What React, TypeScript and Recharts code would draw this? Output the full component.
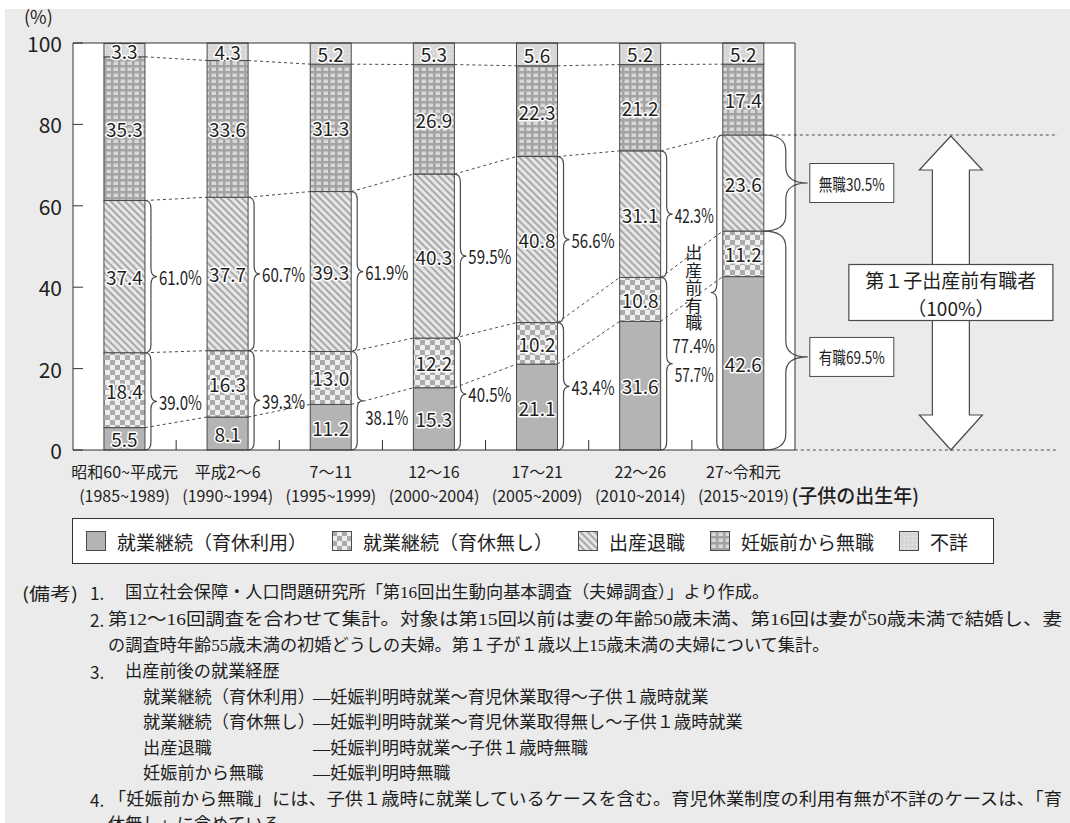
import React from 'react';
import { BarChart, Bar, XAxis, YAxis, CartesianGrid } from 'recharts';

// 子供の出生年 (category axis)
const categories = ['昭和60~平成元', '平成2～6', '7～11', '12～16', '17～21', '22～26', '27~令和元'];
const birthYears = ['(1985~1989)', '(1990~1994)', '(1995~1999)', '(2000~2004)', '(2005~2009)', '(2010~2014)', '(2015~2019)'];

// 出産前後の就業経歴 (%)
const withLeave = [5.5, 8.1, 11.2, 15.3, 21.1, 31.6, 42.6];
const withoutLeave = [18.4, 16.3, 13.0, 12.2, 10.2, 10.8, 11.2];
const quitAtBirth = [37.4, 37.7, 39.3, 40.3, 40.8, 31.1, 23.6];
const notWorking = [35.3, 33.6, 31.3, 26.9, 22.3, 21.2, 17.4];
const unknown = [3.3, 4.3, 5.2, 5.3, 5.6, 5.2, 5.2];

// shares of 出産前有職
const continuedShare = [39.0, 39.3, 38.1, 40.5, 43.4, 57.7, 69.5];
const quitShare = [61.0, 60.7, 61.9, 59.5, 56.6, 42.3, 30.5];
const employedBeforeLast = 77.4;

const yTicks = [0, 20, 40, 60, 80, 100];

const seriesList = [
  { key: 'withLeave', name: '就業継続（育休利用）', values: withLeave, fill: '#b4b4b4' },
  { key: 'withoutLeave', name: '就業継続（育休無し）', values: withoutLeave, fill: 'url(#pat-check)' },
  { key: 'quitAtBirth', name: '出産退職', values: quitAtBirth, fill: 'url(#pat-stripe)' },
  { key: 'notWorking', name: '妊娠前から無職', values: notWorking, fill: 'url(#pat-grid)' },
  { key: 'unknown', name: '不詳', values: unknown, fill: 'url(#pat-dots)' },
];

const chartData = categories.map((cat, i) => {
  const row: Record<string, any> = { cat, years: birthYears[i] };
  seriesList.forEach((s) => {
    row[s.key] = s.values[i];
  });
  return row;
});

const CHART_W = 1070;
const CHART_H = 520;
const PLOT_LEFT = 73;
const PLOT_RIGHT = 795;
const STEP = (PLOT_RIGHT - PLOT_LEFT) / categories.length;
const EXT_RIGHT = 1058;
const FONT = '"Noto Sans CJK JP", "Noto Sans", sans-serif';
const NOTE_FONT = '"Liberation Serif", "Noto Sans CJK JP", serif';
const INK = '#1e1e1e';
const LINE = '#4a4a4a';

const halo: React.CSSProperties = { paintOrder: 'stroke' };

const cumTop = (s: number, i: number) =>
  seriesList.slice(0, s + 1).reduce((a, q) => a + q.values[i], 0);

function bracePath(x0: number, yTop: number, yBot: number, dir: number, depth: number, tipY: number, r: number) {
  const xv = x0 + (dir * depth) / 2;
  const xt = x0 + dir * depth;
  const rr = Math.min(r, (yBot - yTop) / 4);
  return `M${x0},${yTop} Q${xv},${yTop} ${xv},${yTop + rr} L${xv},${tipY - rr} Q${xv},${tipY} ${xt},${tipY} Q${xv},${tipY} ${xv},${tipY + rr} L${xv},${yBot - rr} Q${xv},${yBot} ${x0},${yBot}`;
}

// condensed percentage label (narrow glyphs like the original)
const pctLabel = (x: number, y: number, v: number, sx: number, key: string) => (
  <text key={key} transform={`translate(${x},${y}) scale(${sx},1)`} x={0} y={0} fontSize={19.5} fill={INK}
    fontFamily={FONT} dominantBaseline="central">{`${v.toFixed(1)}%`}</text>
);

// lower brace labels that sit a little off the brace tip
const lowerShift: Record<number, number> = { 2: 16, 5: 10 };

const makeShape = (s: number) => (props: any) => {
  const { x, y, width, height, index } = props;
  if (!(height > 0)) return <g />;
  const v = seriesList[s].values[index];
  const topVal = cumTop(s, index);
  const ppu = height / v;
  const zeroY = y + height + (topVal - v) * ppu;
  const py = (val: number) => zeroY - val * ppu;
  const right = x + width;
  const cx = x + width / 2;
  const last = index === categories.length - 1;
  const out: React.ReactNode[] = [];

  out.push(<rect key="r" x={x} y={y} width={width} height={height} fill={seriesList[s].fill} stroke={LINE} strokeWidth={1} />);

  if (s < 4 && !last) {
    out.push(<line key="c" x1={right} y1={y} x2={x + STEP} y2={py(cumTop(s, index + 1))}
      stroke={LINE} strokeWidth={1} strokeDasharray="3 3" />);
  }

  if (s === 0 && last) {
    out.push(<line key="z" x1={cx + STEP / 2} y1={zeroY} x2={EXT_RIGHT} y2={zeroY} stroke={LINE} strokeDasharray="3 3" />);
  }

  if (s === 1) {
    if (!last) {
      const mid = (y + zeroY) / 2;
      out.push(<path key="b" d={bracePath(right, y, zeroY, 1, 12, mid, 8)} fill="none" stroke={LINE} strokeWidth={1.2} />);
      out.push(pctLabel(right + 14, mid + (lowerShift[index] || 0), continuedShare[index], index === 5 ? 0.7 : 0.77, 'p'));
    } else {
      const tipY = y + (zeroY - y) * 0.575;
      out.push(<path key="b" d={bracePath(right, y, zeroY, 1, 44, tipY, 16)} fill="none" stroke={LINE} strokeWidth={1.2} />);
      out.push(<rect key="bx" x={right + 46} y={tipY - 19.5} width={84} height={39} fill="#fff" stroke={LINE} />);
      out.push(<text key="bt" x={right + 88} y={tipY} textAnchor="middle" dominantBaseline="central" fontSize={17}
        fontFamily={FONT} fill={INK} textLength={66} lengthAdjust="spacingAndGlyphs">{`有職${continuedShare[index].toFixed(1)}%`}</text>);
    }
  }

  if (s === 2) {
    if (!last) {
      const mid = y + height / 2;
      out.push(<path key="b" d={bracePath(right, y, y + height, 1, 12, mid, 8)} fill="none" stroke={LINE} strokeWidth={1.2} />);
      out.push(pctLabel(right + 14, mid, quitShare[index], index === 5 ? 0.7 : 0.77, 'p'));
    } else {
      const yTop = py(employedBeforeLast);
      const mid = y + height / 2;
      // right brace to 無職 box
      out.push(<path key="b" d={bracePath(right, y, y + height, 1, 44, mid, 16)} fill="none" stroke={LINE} strokeWidth={1.2} />);
      out.push(<rect key="bx" x={right + 46} y={mid - 19.5} width={84} height={39} fill="#fff" stroke={LINE} />);
      out.push(<text key="bt" x={right + 88} y={mid} textAnchor="middle" dominantBaseline="central" fontSize={17}
        fontFamily={FONT} fill={INK} textLength={66} lengthAdjust="spacingAndGlyphs">{`無職${quitShare[index].toFixed(1)}%`}</text>);
      // left brace: 出産前有職
      const lmid = (yTop + zeroY) / 2;
      out.push(<path key="lb" d={bracePath(x, yTop, zeroY, -1, 12, lmid, 8)} fill="none" stroke={LINE} strokeWidth={1.2} />);
      out.push(<text key="vt" x={x - 29} y={lmid - 48} fontSize={17} fontFamily={FONT} fill={INK}
        style={{ writingMode: 'vertical-rl' } as React.CSSProperties} textLength={87} lengthAdjust="spacing">出産前有職</text>);
      out.push(<text key="v77" transform={`translate(${x - 29},${lmid + 53}) scale(0.8,1)`} x={0} y={0}
        textAnchor="middle" dominantBaseline="central" fontSize={18.5} fontFamily={FONT} fill={INK}>
        {`${employedBeforeLast.toFixed(1)}%`}
      </text>);
      // dashed guide + double arrow
      out.push(<line key="g" x1={right} y1={yTop} x2={EXT_RIGHT} y2={yTop} stroke={LINE} strokeDasharray="3 3" />);
      const ax = cx + STEP / 2 + 156;
      const hw = 31.5, sw = 18.5, hl = 35;
      const pts = [
        [ax, yTop + 1], [ax + hw, yTop + hl], [ax + sw, yTop + hl], [ax + sw, zeroY - hl], [ax + hw, zeroY - hl],
        [ax, zeroY], [ax - hw, zeroY - hl], [ax - sw, zeroY - hl], [ax - sw, yTop + hl], [ax - hw, yTop + hl],
      ].map((p) => p.join(',')).join(' ');
      out.push(<polygon key="ar" points={pts} fill="#fff" stroke={LINE} strokeWidth={1.2} />);
      out.push(<rect key="al" x={ax - 102} y={lmid - 28} width={204} height={56} fill="#fff" stroke={LINE} strokeWidth={1.2} />);
      out.push(<text key="at1" x={ax} y={lmid - 12.5} textAnchor="middle" dominantBaseline="central" fontSize={19}
        fontFamily={FONT} fill={INK}>第１子出産前有職者</text>);
      out.push(<text key="at2" x={ax} y={lmid + 15} textAnchor="middle" dominantBaseline="central" fontSize={19}
        fontFamily={FONT} fill={INK}>（100%）</text>);
    }
  }

  out.push(
    <text key="t" x={cx} y={y + height / 2} textAnchor="middle" dominantBaseline="central" fontSize={19}
      fontFamily={FONT} fill={INK} stroke="#fff" strokeWidth={3} strokeLinejoin="round" style={halo}>
      {v.toFixed(1)}
    </text>
  );
  return <g>{out}</g>;
};

const CategoryTick = (props: any) => {
  const { x, y, payload } = props;
  const i = categories.indexOf(payload.value);
  const last = i === categories.length - 1;
  return (
    <g fontFamily={FONT} fill={INK}>
      {!last && <line x1={x + STEP / 2} x2={x + STEP / 2} y1={y} y2={y - 10} stroke="#333" />}
      <text x={x} y={y + 21} textAnchor="middle" dominantBaseline="central" fontSize={16}>{payload.value}</text>
      <text x={x} y={y + 44.5} textAnchor="middle" dominantBaseline="central" fontSize={16}>{birthYears[i]}</text>
      {last && (
        <text x={x + 48} y={y + 44} textAnchor="start" dominantBaseline="central" fontSize={19} fontWeight={500}>(子供の出生年)</text>
      )}
    </g>
  );
};

const ValueTick = (props: any) => {
  const { x, y, payload } = props;
  return (
    <g>
      <text x={x} y={y} textAnchor="end" dominantBaseline="central" fontSize={21} fontFamily={FONT} fill={INK}>
        {payload.value}
      </text>
      <line x1={PLOT_LEFT} x2={PLOT_LEFT + 10} y1={y} y2={y} stroke="#333" />
    </g>
  );
};

function Patterns() {
  return (
    <svg width={0} height={0} style={{ position: 'absolute' }}>
      <defs>
        <pattern id="pat-check" width={10} height={10} patternUnits="userSpaceOnUse">
          <rect width={10} height={10} fill="#eeeeee" />
          <rect width={5} height={5} fill="#ababab" />
          <rect x={5} y={5} width={5} height={5} fill="#ababab" />
        </pattern>
        <pattern id="pat-stripe" width={5} height={5} patternUnits="userSpaceOnUse" patternTransform="rotate(-45)">
          <rect width={5} height={5} fill="#e6e6e6" />
          <rect width={2} height={5} fill="#a9a9a9" />
        </pattern>
        <pattern id="pat-grid" width={7} height={6} patternUnits="userSpaceOnUse">
          <rect width={7} height={6} fill="#a3a3a3" />
          <rect x={1.5} y={1.5} width={4.5} height={3.5} fill="#d8d8d8" />
        </pattern>
        <pattern id="pat-dots" width={4} height={4} patternUnits="userSpaceOnUse">
          <rect width={4} height={4} fill="#d6d6d6" />
          <rect x={1} y={1} width={1} height={1} fill="#f2f2f2" />
        </pattern>
      </defs>
    </svg>
  );
}

function LegendBox() {
  return (
    <div style={{
      position: 'absolute', left: 72, top: 518, width: 922, height: 46, boxSizing: 'border-box',
      border: '1px solid #333', background: '#fff', display: 'flex', alignItems: 'center', paddingLeft: 13,
      fontFamily: FONT, fontSize: 19, color: INK, whiteSpace: 'nowrap',
    }}>
      {seriesList.map((s) => (
        <div key={s.key} style={{ display: 'flex', alignItems: 'center', marginRight: 25 }}>
          <svg width={20} height={20} style={{ marginRight: 11 }}>
            <rect x={0.5} y={0.5} width={19} height={19} fill={s.fill} stroke={LINE} />
          </svg>
          <span>{s.name}</span>
        </div>
      ))}
    </div>
  );
}

function Notes() {
  const t = (x: number, y: number, s: string, font = NOTE_FONT, len?: number) => (
    <text x={x} y={y} dominantBaseline="central" fontSize={17.2} fontFamily={font} fill={INK}
      textLength={len} lengthAdjust={len ? 'spacingAndGlyphs' : undefined}>{s}</text>
  );
  return (
    <svg width={1070} height={823} style={{ position: 'absolute', left: 0, top: 0, pointerEvents: 'none' }}>
      <text x={24} y={16} dominantBaseline="central" fontSize={18} fontFamily={FONT} fill={INK}>(%)</text>
      {t(22, 592, '(備考)', FONT, 56)}
      {t(90, 592, '1.', FONT)}
      {t(125, 592, '国立社会保障・人口問題研究所「第16回出生動向基本調査（夫婦調査）」より作成。')}
      {t(90, 619, '2.', FONT)}
      {t(108, 619, '第12～16回調査を合わせて集計。対象は第15回以前は妻の年齢50歳未満、第16回は妻が50歳未満で結婚し、妻', NOTE_FONT, 954)}
      {t(108, 645, 'の調査時年齢55歳未満の初婚どうしの夫婦。第１子が１歳以上15歳未満の夫婦について集計。')}
      {t(90, 671, '3.', FONT)}
      {t(125, 671, '出産前後の就業経歴')}
      {t(143, 697, '就業継続（育休利用）')}
      {t(313, 697, '—妊娠判明時就業～育児休業取得～子供１歳時就業')}
      {t(143, 722, '就業継続（育休無し）')}
      {t(313, 722, '—妊娠判明時就業～育児休業取得無し～子供１歳時就業')}
      {t(143, 748, '出産退職')}
      {t(313, 748, '—妊娠判明時就業～子供１歳時無職')}
      {t(143, 773, '妊娠前から無職')}
      {t(313, 773, '—妊娠判明時無職')}
      {t(90, 799, '4.', FONT)}
      {t(108, 799, '「妊娠前から無職」には、子供１歳時に就業しているケースを含む。育児休業制度の利用有無が不詳のケースは、「育', NOTE_FONT, 954)}
      {t(108, 824, '休無し」に含めている。')}
    </svg>
  );
}

export default function App() {
  return (
    <div style={{ position: 'absolute', left: 0, top: 0, width: 1070, height: 823, overflow: 'hidden', background: '#fff' }}>
      <div style={{ position: 'absolute', left: 5, top: 9, right: 0, bottom: 0, background: '#ebebeb' }} />
      <Patterns />
      <div style={{ position: 'absolute', left: 0, top: 0 }}>
        <BarChart width={CHART_W} height={CHART_H} data={chartData} barCategoryGap="30%"
          margin={{ top: 42, right: CHART_W - PLOT_RIGHT - 1, bottom: 0, left: 0 }}>
          <CartesianGrid horizontal={false} vertical={false} fill="#fff" />
          <XAxis xAxisId="t" orientation="top" dataKey="cat" height={1} tick={false} tickLine={false}
            axisLine={{ stroke: '#333' }} />
          <YAxis yAxisId="r" orientation="right" type="number" domain={[0, 100]} width={1} tick={false}
            tickLine={false} axisLine={{ stroke: '#333' }} />
          <XAxis dataKey="cat" height={70} interval={0} tickLine={false} tickSize={0} tickMargin={0}
            tick={(p: any) => <CategoryTick {...p} />} axisLine={{ stroke: '#333' }} />
          <YAxis type="number" domain={[0, 100]} ticks={yTicks} interval={0} width={PLOT_LEFT} tickSize={0}
            tickMargin={11} tickLine={false} tick={(p: any) => <ValueTick {...p} />} axisLine={{ stroke: '#333' }} />
          {seriesList.map((s, k) => (
            <Bar key={s.key} dataKey={s.key} name={s.name} stackId="a" fill={s.fill}
              isAnimationActive={false} shape={makeShape(k)} />
          ))}
        </BarChart>
      </div>
      <LegendBox />
      <Notes />
    </div>
  );
}
